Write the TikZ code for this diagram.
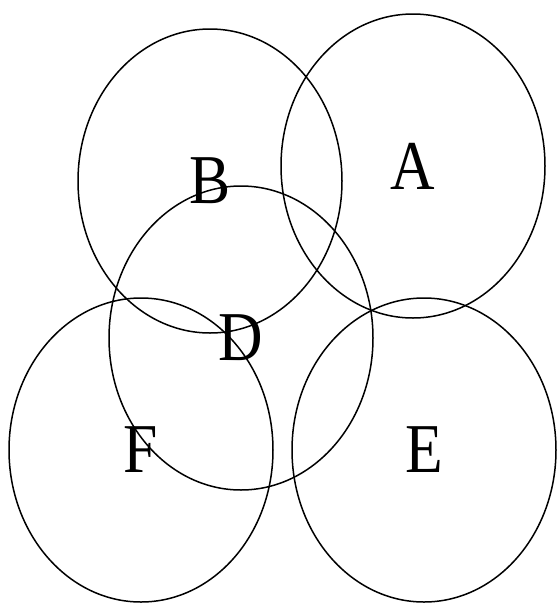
\documentclass[tikz,border=0pt]{standalone}
\usepackage{fontspec}
\setmainfont{Liberation Serif}
\usetikzlibrary{shapes.geometric}
\newcommand{\setname}[1]{\scalebox{0.88}[1]{#1}}

\begin{document}
\begin{tikzpicture}[x=1pt, y=-1pt,
  region/.style={draw, ellipse, line width=1.5pt, inner sep=0pt,
    minimum width=264pt, minimum height=304pt,
    font=\fontsize{70}{70}\selectfont}]
  \useasboundingbox (0,0) rectangle (558,603);
  \node[region] (b) at (210,181) {\setname{B}};
  \node[region] (a) at (413,166) {\setname{A}};
  \node[region] (d) at (241,338) {\setname{D}};
  \node[region] (f) at (141,450) {\setname{F}};
  \node[region] (e) at (424,450) {\setname{E}};
\end{tikzpicture}
\end{document}
